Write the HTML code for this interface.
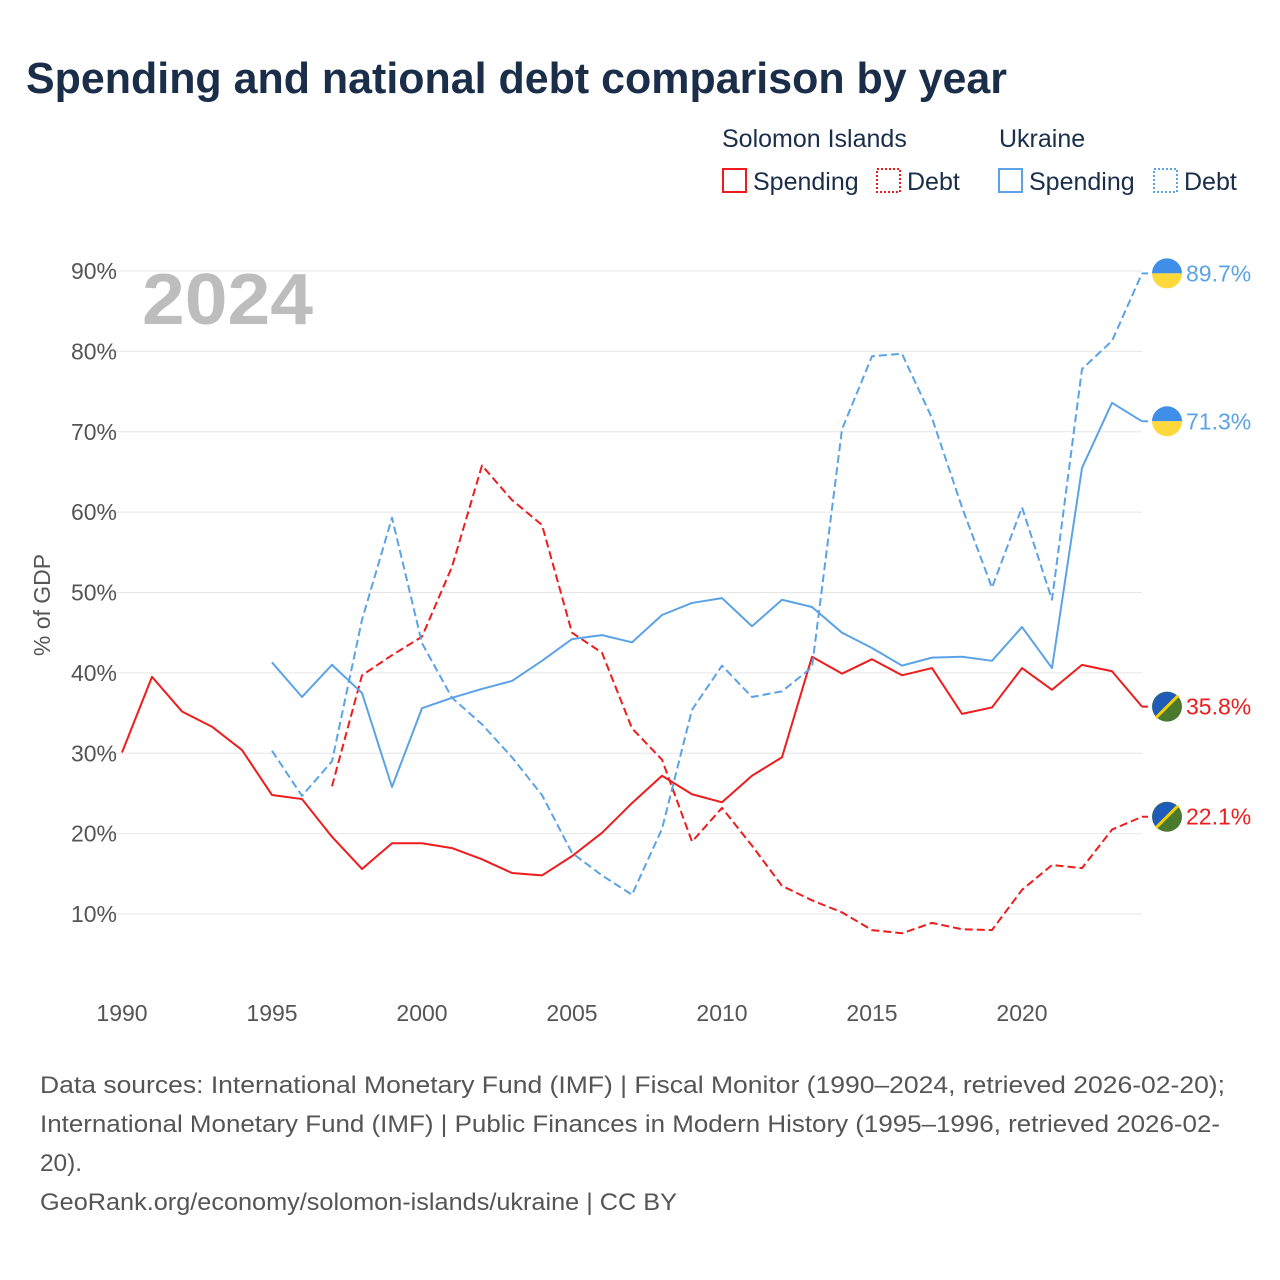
<!DOCTYPE html>
<html><head><meta charset="utf-8"><style>
body{margin:0;background:#fff;font-family:"Liberation Sans",sans-serif;}
#wrap{position:relative;width:1280px;height:1280px;overflow:hidden;}
</style></head><body>
<div id="wrap">
<svg id="svg" width="1280" height="1280" xmlns="http://www.w3.org/2000/svg">
<text x="26" y="93" font-size="44" font-weight="bold" fill="#1a2e4a" textLength="981" lengthAdjust="spacingAndGlyphs">Spending and national debt comparison by year</text>
<g font-size="25" fill="#1a2e4a">
<text x="722" y="147">Solomon Islands</text>
<text x="999" y="147">Ukraine</text>
<g><rect x="723" y="169" width="23" height="23" fill="none" stroke="#ee1c1c" stroke-width="2"/><text x="753" y="190">Spending</text></g>
<g><rect x="877" y="169" width="23" height="23" fill="none" stroke="#ee1c1c" stroke-width="2" stroke-dasharray="2,2"/><text x="907" y="190">Debt</text></g>
<g><rect x="999" y="169" width="23" height="23" fill="none" stroke="#5ba3e6" stroke-width="2"/><text x="1029" y="190">Spending</text></g>
<g><rect x="1154" y="169" width="23" height="23" fill="none" stroke="#5ba3e6" stroke-width="2" stroke-dasharray="2,2"/><text x="1184" y="190">Debt</text></g>
</g>
<text x="142" y="324" font-size="72" font-weight="bold" fill="#bdbdbd" textLength="171" lengthAdjust="spacingAndGlyphs">2024</text>
<text transform="translate(50,605) rotate(-90)" text-anchor="middle" font-size="23" fill="#555">% of GDP</text>
<g id="grid"></g><g id="series"></g><g id="ends"></g>
<g font-size="24" fill="#555">
<text x="40" y="1093" textLength="1185" lengthAdjust="spacingAndGlyphs">Data sources: International Monetary Fund (IMF) | Fiscal Monitor (1990–2024, retrieved 2026-02-20);</text>
<text x="40" y="1132" textLength="1180" lengthAdjust="spacingAndGlyphs">International Monetary Fund (IMF) | Public Finances in Modern History (1995–1996, retrieved 2026-02-</text>
<text x="40" y="1171" textLength="42" lengthAdjust="spacingAndGlyphs">20).</text>
<text x="40" y="1210" textLength="637" lengthAdjust="spacingAndGlyphs">GeoRank.org/economy/solomon-islands/ukraine | CC BY</text>
</g>
</svg></div>
<script>
const yTicks=[10,20,30,40,50,60,70,80,90];
const xTicks=[1990,1995,2000,2005,2010,2015,2020];
const slbSpending=[30.1,39.5,35.2,33.3,30.4,24.8,24.3,19.6,15.6,18.8,18.8,18.2,16.8,15.1,14.8,17.2,20.1,23.8,27.2,24.9,23.9,27.2,29.5,42.0,39.9,41.7,39.7,40.6,34.9,35.7,40.6,37.9,41.0,40.2,35.8];
const slbDebt=[25.9,39.7,42.2,44.5,53.2,65.8,61.5,58.4,45.0,42.5,33.1,29.2,19.0,23.2,18.5,13.5,11.7,10.2,8.0,7.6,8.9,8.1,8.0,13.0,16.1,15.7,20.5,22.1];
const ukrSpending=[41.3,37.0,41.0,37.5,25.8,35.6,36.9,38.0,39.0,41.5,44.2,44.7,43.8,47.2,48.7,49.3,45.8,49.1,48.2,45.0,43.1,40.9,41.9,42.0,41.5,45.7,40.6,65.5,73.6,71.3];
const ukrDebt=[30.3,24.7,29.0,46.6,59.3,43.7,36.9,33.6,29.5,24.8,17.6,14.8,12.4,20.6,35.4,40.9,37.0,37.7,40.7,70.3,79.4,79.7,71.7,60.6,50.6,60.6,49.1,77.8,81.3,89.7];
const NS='http://www.w3.org/2000/svg';
const X=y=>122+(y-1990)*30, Y=v=>914-(v-10)*8.0375;
function mk(t,a,p){const e=document.createElementNS(NS,t);for(const k in a)e.setAttribute(k,a[k]);p.appendChild(e);return e;}
const grid=document.getElementById('grid');
yTicks.forEach(v=>{
 const l=mk('line',{x1:110,x2:1142,y1:Y(v),y2:Y(v),stroke:'#e6e6e6','stroke-width':1},grid);
 
 
 const t=mk('text',{x:117,y:Y(v)+8,'text-anchor':'end','font-size':23,fill:'#555'},grid);t.textContent=v+'%';
 
 
});
xTicks.forEach(y=>{
 const t=mk('text',{x:X(y),y:1021,'text-anchor':'middle','font-size':23,fill:'#555'},grid);t.textContent=y;
 
 
});
const ser=document.getElementById('series');
function line(vals,start,color,dash,name){
 const d=vals.map((v,i)=>(i?'L':'M')+X(start+i)+','+Y(v)).join(' ');
 const p=mk('path',{d:d,fill:'none',stroke:color,'stroke-width':2,'stroke-dasharray':dash,'stroke-linejoin':'round'},ser);
 
 
}
line(slbSpending,1990,'#ee1c1c','none','line-solomon-spending');
line(slbDebt,1997,'#ee1c1c','8,4','line-solomon-debt');
line(ukrSpending,1995,'#5ba3e6','none','line-ukraine-spending');
line(ukrDebt,1995,'#5ba3e6','8,4','line-ukraine-debt');
const ends=document.getElementById('ends');
function endLabel(v,color,ukr,name){
 const y=Y(v);
 mk('line',{x1:X(2024),x2:1152,y1:y,y2:y,stroke:color,'stroke-width':2,'stroke-dasharray':'6,4'},ends);
 const g=mk('g',{},ends);
 
 
 if(ukr){
  mk('path',{d:`M1152,${y} a15,15 0 0 1 30,0 z`,fill:'#3f8fe8'},g);
  mk('path',{d:`M1152,${y} a15,15 0 0 0 30,0 z`,fill:'#ffd93b'},g);
 }else{
  mk('circle',{cx:1167,cy:y,r:15,fill:'#4a7a2e'},g);
  mk('path',{d:`M${1167-10.6},${y+10.6} A15,15 0 0 1 ${1167+10.6},${y-10.6} z`,fill:'#1f5bb8'},g);
  mk('line',{x1:1156,y1:y+11,x2:1178,y2:y-11,stroke:'#f5d000','stroke-width':3},g);
 }
 const t=mk('text',{x:1186,y:y+8,'font-size':23,fill:color},ends);t.textContent=v.toFixed(1)+'%';
 
 
}
endLabel(ukrDebt[ukrDebt.length-1],'#5ba3e6',true,'ukraine-debt-end');
endLabel(ukrSpending[ukrSpending.length-1],'#5ba3e6',true,'ukraine-spending-end');
endLabel(slbSpending[slbSpending.length-1],'#ee1c1c',false,'solomon-spending-end');
endLabel(slbDebt[slbDebt.length-1],'#ee1c1c',false,'solomon-debt-end');
</script>
</body></html>
